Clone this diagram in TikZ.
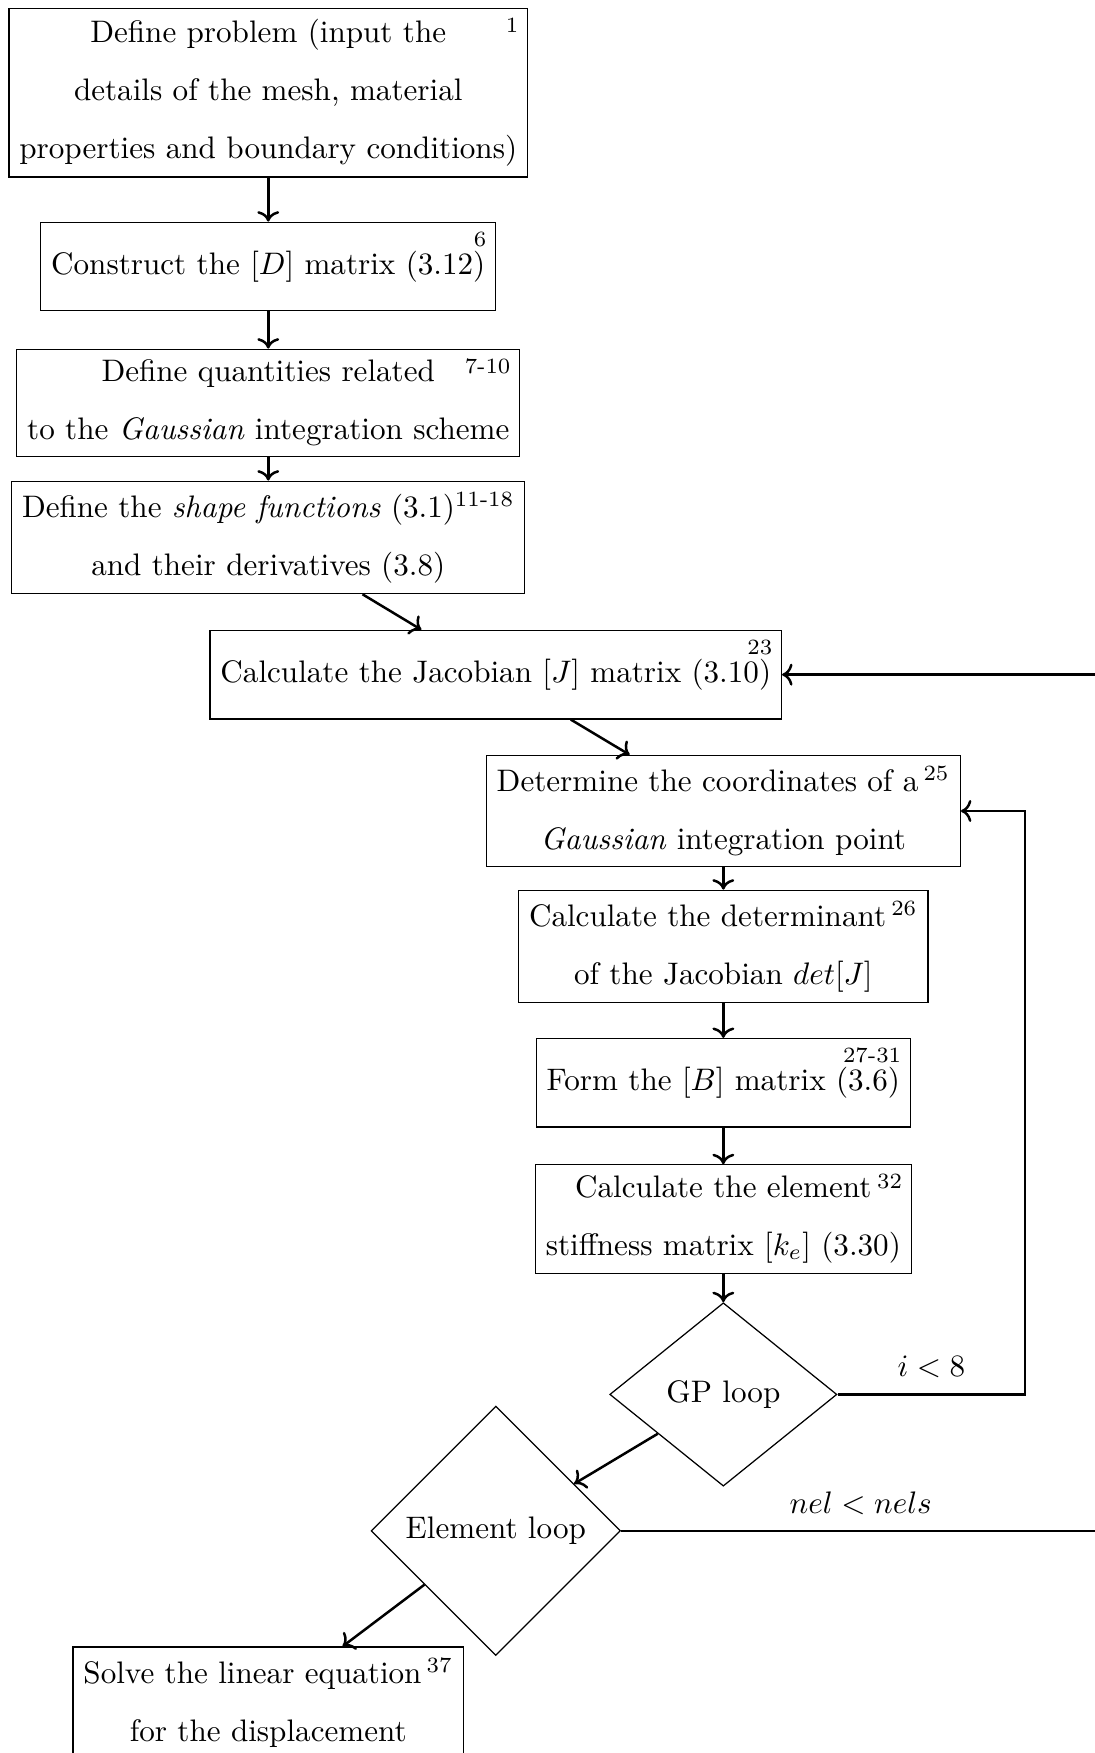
\documentclass[tikz,border=0pt]{standalone}
\usepackage{amsmath}
\usepackage{tikz}
\usetikzlibrary{arrows.meta, shapes.geometric}
\newcommand{\srcline}[1]{\,\textsuperscript{#1}}
\tikzset{
  box/.style={draw, thin, align=center, minimum height=1cm,
              font=\fontsize{10pt}{18.7pt}\selectfont},
  decision/.style={diamond, draw, thin, align=center, font=\normalsize},
  num/.style={anchor=north east, inner sep=3pt, font=\scriptsize},
  flow/.style={->, thick},
  lbl/.style={above=1.5pt},
}

\begin{document}
\begin{tikzpicture}
  \useasboundingbox (0,0) rectangle (12.36,-19.80);

  % set-up column
  \node[box] (define) at (3.03,-1.05)
    {Define problem (input the\\ details of the mesh, material\\
     properties and boundary conditions)};
  \node[num] (definenum) at (define.north east) {1};
  \node[box] (dmatrix) at (3.03,-3.01) {Construct the $[D]$ matrix (3.12)};
  \node[num] (dmatrixnum) at (dmatrix.north east) {6};
  \node[box] (gauss) at (3.03,-4.55)
    {Define quantities related\\ to the \emph{Gaussian} integration scheme};
  \node[num] (gaussnum) at (gauss.north east) {7-10};
  \node[box] (shapefn) at (3.03,-6.07)
    {Define the \emph{shape functions} (3.1)\textsuperscript{11-18}\\
     and their derivatives (3.8)};

  % element loop
  \node[box] (jacobian) at (5.60,-7.62) {Calculate the Jacobian $[J]$ matrix (3.10)};
  \node[num] (jacobiannum) at (jacobian.north east) {23};

  % Gauss point loop
  \node[box] (coord) at (8.17,-9.16)
    {Determine the coordinates of a\srcline{25}\\ \emph{Gaussian} integration point};
  \node[box] (detj) at (8.17,-10.69)
    {Calculate the determinant\srcline{26}\\ of the Jacobian $det[J]$};
  \node[box] (bmatrix) at (8.17,-12.23) {Form the $[B]$ matrix (3.6)};
  \node[num] (bmatrixnum) at (bmatrix.north east) {27-31};
  \node[box] (kmatrix) at (8.17,-13.77)
    {Calculate the element\\ stiffness matrix $[k_e]$ (3.30)};
  \node[num] (kmatrixnum) at (kmatrix.north east) {32};

  \node[decision, minimum width=73pt] (gploop) at (8.17,-15.75) {GP loop};
  \node[decision] (elloop) at (5.60,-17.29) {Element loop};
  \node[box] (solve) at (3.03,-19.23)
    {Solve the linear equation\srcline{37}\\ for the displacement};

  \coordinate (gpturn) at (11.58,-15.75);
  \coordinate (elturn) at (12.43,-17.29);

  \draw[flow] (define) -- (dmatrix);
  \draw[flow] (dmatrix) -- (gauss);
  \draw[flow] (gauss) -- (shapefn);
  \draw[flow] (shapefn) -- (jacobian);
  \draw[flow] (jacobian) -- (coord);
  \draw[flow] (coord) -- (detj);
  \draw[flow] (detj) -- (bmatrix);
  \draw[flow] (bmatrix) -- (kmatrix);
  \draw[flow] (kmatrix) -- (gploop);
  \draw[flow] (gploop) -- (elloop);
  \draw[flow] (elloop) -- (solve);

  % loop-back connectors
  \draw[flow] (gploop.east) -- node[lbl]{$i<8$} (gpturn) |- (coord.east);
  \draw[flow] (elloop.east) -- node[lbl]{$nel<nels$} (elturn) |- (jacobian.east);
\end{tikzpicture}
\end{document}
